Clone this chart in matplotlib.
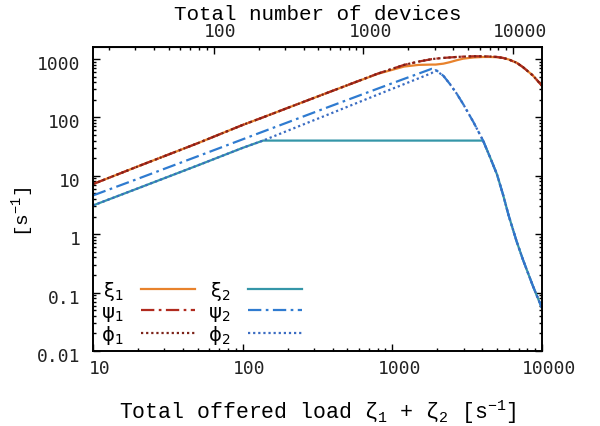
"""Departure rates versus total offered load for two device classes."""

from matplotlib import pyplot
from matplotlib.ticker import FixedLocator, NullFormatter, FuncFormatter
from matplotlib.transforms import ScaledTranslation

# Total offered load zeta_1 + zeta_2 [1/s]
load = [10, 20, 50, 100, 137, 200, 400, 800, 1200, 1500, 1830, 1950, 2200,
        2430, 2700, 2980, 3500, 4050, 4500, 5020, 5500, 6000, 6790, 7500,
        8720, 10000]

# Class 1 rates
xi1 = [7.2, 14.5, 36, 74, 100, 145, 285, 555, 740, 790, 800, 800, 830,
       880, 950, 1010, 1060, 1080, 1080, 1070, 1040, 980, 860, 720, 520, 350]
psi1 = [7.2, 14.5, 36, 74, 100, 145, 285, 560, 790, 900, 990, 1010, 1040,
        1060, 1080, 1095, 1110, 1110, 1100, 1080, 1040, 980, 860, 720, 520,
        350]
phi1 = [7.2, 14.5, 36, 74, 100, 145, 285, 560, 790, 900, 990, 1010, 1040,
        1060, 1080, 1095, 1110, 1110, 1100, 1080, 1040, 980, 860, 720, 520,
        350]

# Class 2 rates
xi2 = [3.1, 6.1, 15, 30, 40, 40, 40, 40, 40, 40, 40, 40, 40,
       40, 40, 40, 40, 40, 21, 10.5, 4.8, 2.1, 0.75, 0.36, 0.13, 0.055]
psi2 = [4.6, 8.9, 21.5, 42, 57, 82, 160, 310, 455, 560, 675, 655, 513,
        372, 254, 169, 82, 40, 21, 10.5, 4.8, 2.1, 0.75, 0.36, 0.13, 0.055]
phi2 = [3.1, 6.1, 15, 30, 40, 59, 120, 245, 370, 465, 570, 640, 513,
        372, 254, 169, 82, 40, 21, 10.5, 4.8, 2.1, 0.75, 0.36, 0.13, 0.055]

# Offered load per device [1/s]
load_per_device = 0.64

xticks = [10, 100, 1000, 10000]
yticks = [0.01, 0.1, 1, 10, 100, 1000]
device_ticks = [100, 1000, 10000]

mono = ['Nimbus Mono PS', 'Courier New', 'Liberation Mono']
tickfont = 'DejaVu Sans Mono'
pyplot.rcParams['mathtext.fontset'] = 'dejavusans'


def minor_ticks(lo, hi):
    """Return the 2..9 log-spaced minor positions between two decades."""
    out = []
    d = lo
    while d < hi:
        out += [k * d for k in range(2, 10)]
        d *= 10
    return out


fig = pyplot.figure(figsize=(6.0, 4.27), dpi=100)
ax = fig.add_axes([0.155, 0.1756, 0.748, 0.712])

c_or = '#e8822c'
c_red = '#b02a1e'
c_brown = '#7c2218'
c_teal = '#3596a8'
c_blue = '#2f7bd0'
c_blue2 = '#3a6cc2'

lw = 1.6
ax.plot(load, xi1, color=c_or, lw=lw, label=r'$\mathregular{ξ_1}$')
ax.plot(load, psi1, color=c_red, lw=lw, dashes=(6, 2, 1.2, 2),
        label=r'$\mathregular{ψ_1}$')
ax.plot(load, phi1, color=c_brown, lw=lw, dashes=(1.0, 1.3),
        label=r'$\mathregular{ϕ_1}$')
ax.plot(load, xi2, color=c_teal, lw=lw, label=r'$\mathregular{ξ_2}$')
ax.plot(load, psi2, color=c_blue, lw=lw, dashes=(6, 2, 1.2, 2),
        label=r'$\mathregular{ψ_2}$')
ax.plot(load, phi2, color=c_blue2, lw=lw, dashes=(1.0, 1.3),
        label=r'$\mathregular{ϕ_2}$')

ax.set_xscale('log')
ax.set_yscale('log')
ax.set_xlim(10, 10000)
ax.set_ylim(0.01, 1600)

plain = FuncFormatter(lambda v, pos: f'{v:g}')
ax.xaxis.set_major_locator(FixedLocator(xticks))
ax.yaxis.set_major_locator(FixedLocator(yticks))
ax.xaxis.set_minor_locator(FixedLocator(minor_ticks(10, 10000)))
ax.yaxis.set_minor_locator(FixedLocator(minor_ticks(0.01, 1000)))
ax.xaxis.set_major_formatter(plain)
ax.yaxis.set_major_formatter(plain)
ax.xaxis.set_minor_formatter(NullFormatter())
ax.yaxis.set_minor_formatter(NullFormatter())
ax.tick_params(which='both', direction='in', right=True, top=False,
               labelsize=13, width=1.0, labelcolor='#222222')
ax.tick_params(which='major', length=5)
ax.tick_params(which='minor', length=2.5)
ax.tick_params(axis='y', pad=9)
ax.tick_params(axis='x', pad=6)
for lbl in ax.get_xticklabels() + ax.get_yticklabels():
    lbl.set_fontfamily(tickfont)
for sp in ax.spines.values():
    sp.set_linewidth(1.4)

ax.set_xlabel(r'Total offered load $\mathregular{ζ_1}$ + $\mathregular{ζ_2}$ '
              r'[s$^{\mathregular{-1}}$]', family=mono, fontsize=15.5)
ax.xaxis.set_label_coords(0.5, -0.15)
ax.set_ylabel(r'[s$^{\mathregular{-1}}$]', family=mono, fontsize=14)
ax.yaxis.set_label_coords(-0.125, 0.46)

# Top axis: number of devices generating the offered load
top = ax.secondary_xaxis('top', functions=(lambda x: x / load_per_device,
                                           lambda n: n * load_per_device))
top.xaxis.set_major_locator(FixedLocator(device_ticks))
top.xaxis.set_minor_locator(FixedLocator(minor_ticks(10, 10000)))
top.xaxis.set_major_formatter(plain)
top.xaxis.set_minor_formatter(NullFormatter())
top.tick_params(which='both', direction='in', labelsize=13, width=1.0,
                labelcolor='#222222', pad=5)
top.tick_params(which='major', length=5)
top.tick_params(which='minor', length=2.5)
for lbl in top.get_xticklabels():
    lbl.set_fontfamily(tickfont)
top.set_xlabel('Total number of devices', family=mono, fontsize=15,
               labelpad=2)

leg = ax.legend(ncol=2, loc='lower left', frameon=False, markerfirst=False,
                fontsize=14, handlelength=2.8, handletextpad=0.9,
                columnspacing=0.65, labelspacing=0.0, borderaxespad=0.0,
                bbox_to_anchor=(0.0, -0.01))

# Tick labels sit slightly off their ticks
dx = ScaledTranslation(7 / 100, 0, fig.dpi_scale_trans)
dy = ScaledTranslation(0, -3 / 100, fig.dpi_scale_trans)
for lbl in ax.get_xticklabels() + top.get_xticklabels():
    lbl.set_transform(lbl.get_transform() + dx)
for lbl in ax.get_yticklabels():
    lbl.set_transform(lbl.get_transform() + dy)

fig.savefig('out.png', dpi=100)
